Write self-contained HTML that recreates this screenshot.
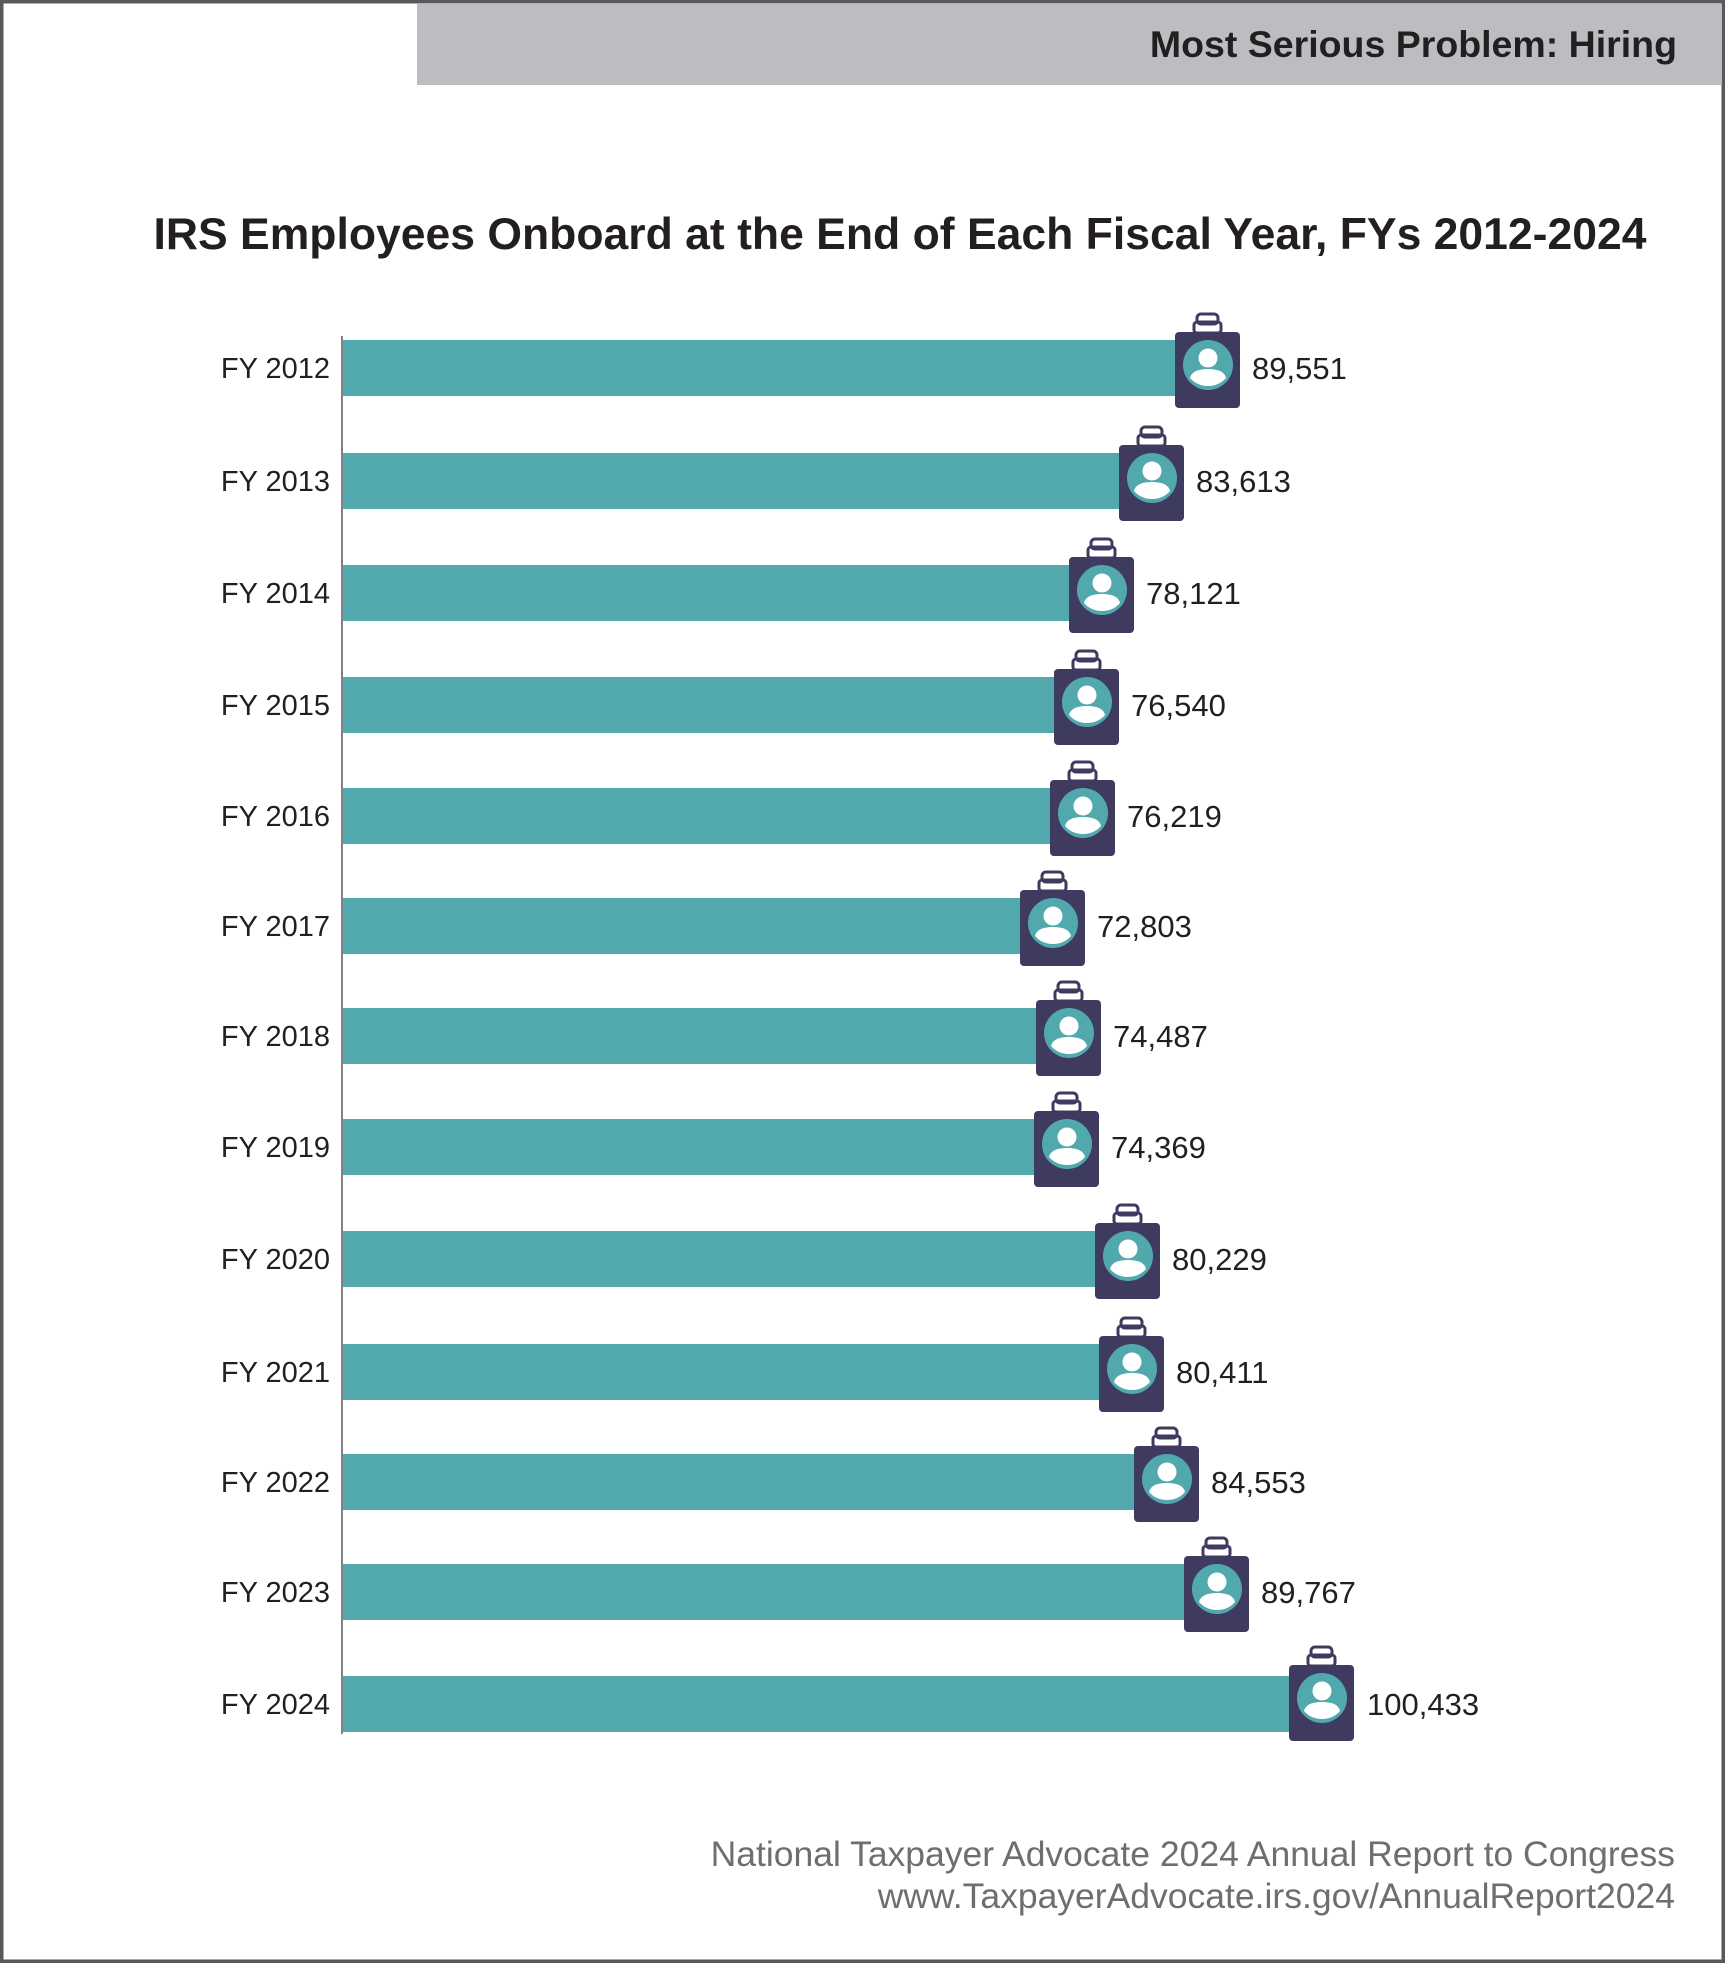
<!DOCTYPE html>
<html><head><meta charset="utf-8"><style>
html,body{margin:0;padding:0;background:#fff}
svg{display:block}
text{font-family:"Liberation Sans",sans-serif}
</style></head><body>
<svg width="1725" height="1963" viewBox="0 0 1725 1963" xmlns="http://www.w3.org/2000/svg">
<defs>
<g id="ic">
<rect x="22" y="-6" width="21" height="10" rx="4" fill="none" stroke="#3f3a60" stroke-width="3"/>
<rect x="19" y="2" width="27" height="11" rx="3" fill="none" stroke="#3f3a60" stroke-width="3"/>
<rect x="0" y="12" width="65" height="76" rx="4" fill="#3f3a60"/>
<circle cx="33" cy="45" r="25" fill="#52a9ad"/>
<circle cx="33" cy="38" r="9.5" fill="#fff"/>
<path d="M15 58 Q17 49 33 49 Q49 49 51 58 Q44 66 33 66 Q22 66 15 58 Z" fill="#fff"/>
</g>
</defs>
<rect x="1.5" y="1.5" width="1722" height="1960" fill="#fff" stroke="#58595b" stroke-width="4"/>
<rect x="417" y="4" width="1305" height="81" fill="#bcbdc0"/>
<text x="1677" y="57" text-anchor="end" font-size="37.5" font-weight="bold" fill="#231f20">Most Serious Problem: Hiring</text>
<text x="900" y="249" text-anchor="middle" font-size="44.5" font-weight="bold" fill="#231f20">IRS Employees Onboard at the End of Each Fiscal Year, FYs 2012-2024</text>
<line x1="342" y1="336" x2="342" y2="1734" stroke="#808285" stroke-width="2"/>
<g font-size="29" fill="#231f20">
<rect x="343" y="340" width="860" height="56" fill="#52a9ad"/><use href="#ic" x="1175" y="320"/><text x="330" y="378" text-anchor="end">FY 2012</text><text x="1252" y="379" font-size="31">89,551</text>
<rect x="343" y="453" width="808" height="56" fill="#52a9ad"/><use href="#ic" x="1119" y="433"/><text x="330" y="491" text-anchor="end">FY 2013</text><text x="1196" y="492" font-size="31">83,613</text>
<rect x="343" y="565" width="758" height="56" fill="#52a9ad"/><use href="#ic" x="1069" y="545"/><text x="330" y="603" text-anchor="end">FY 2014</text><text x="1146" y="604" font-size="31">78,121</text>
<rect x="343" y="677" width="743" height="56" fill="#52a9ad"/><use href="#ic" x="1054" y="657"/><text x="330" y="715" text-anchor="end">FY 2015</text><text x="1131" y="716" font-size="31">76,540</text>
<rect x="343" y="788" width="739" height="56" fill="#52a9ad"/><use href="#ic" x="1050" y="768"/><text x="330" y="826" text-anchor="end">FY 2016</text><text x="1127" y="827" font-size="31">76,219</text>
<rect x="343" y="898" width="709" height="56" fill="#52a9ad"/><use href="#ic" x="1020" y="878"/><text x="330" y="936" text-anchor="end">FY 2017</text><text x="1097" y="937" font-size="31">72,803</text>
<rect x="343" y="1008" width="725" height="56" fill="#52a9ad"/><use href="#ic" x="1036" y="988"/><text x="330" y="1046" text-anchor="end">FY 2018</text><text x="1113" y="1047" font-size="31">74,487</text>
<rect x="343" y="1119" width="723" height="56" fill="#52a9ad"/><use href="#ic" x="1034" y="1099"/><text x="330" y="1157" text-anchor="end">FY 2019</text><text x="1111" y="1158" font-size="31">74,369</text>
<rect x="343" y="1231" width="784" height="56" fill="#52a9ad"/><use href="#ic" x="1095" y="1211"/><text x="330" y="1269" text-anchor="end">FY 2020</text><text x="1172" y="1270" font-size="31">80,229</text>
<rect x="343" y="1344" width="788" height="56" fill="#52a9ad"/><use href="#ic" x="1099" y="1324"/><text x="330" y="1382" text-anchor="end">FY 2021</text><text x="1176" y="1383" font-size="31">80,411</text>
<rect x="343" y="1454" width="823" height="56" fill="#52a9ad"/><use href="#ic" x="1134" y="1434"/><text x="330" y="1492" text-anchor="end">FY 2022</text><text x="1211" y="1493" font-size="31">84,553</text>
<rect x="343" y="1564" width="873" height="56" fill="#52a9ad"/><use href="#ic" x="1184" y="1544"/><text x="330" y="1602" text-anchor="end">FY 2023</text><text x="1261" y="1603" font-size="31">89,767</text>
<rect x="343" y="1676" width="978" height="56" fill="#52a9ad"/><use href="#ic" x="1289" y="1653"/><text x="330" y="1714" text-anchor="end">FY 2024</text><text x="1367" y="1715" font-size="31">100,433</text>
</g>
<text x="1675" y="1866" text-anchor="end" font-size="35.5" fill="#6d6e71">National Taxpayer Advocate 2024 Annual Report to Congress</text>
<text x="1675" y="1908" text-anchor="end" font-size="35.5" fill="#6d6e71">www.TaxpayerAdvocate.irs.gov/AnnualReport2024</text>
</svg>
</body></html>
